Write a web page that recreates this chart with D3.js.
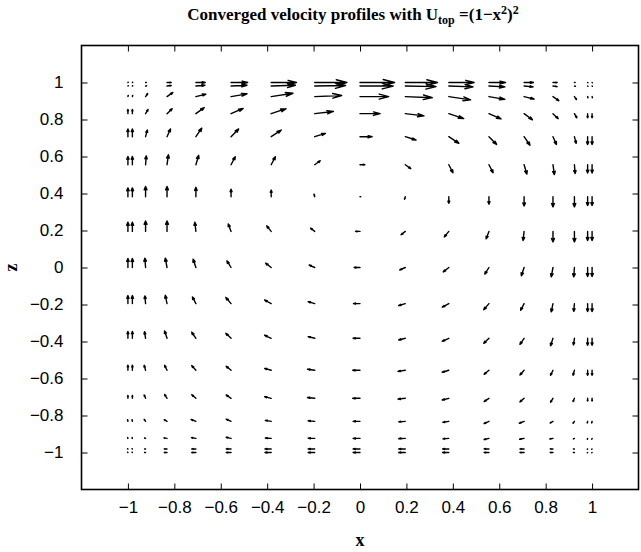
<!DOCTYPE html>
<html>
<head>
<meta charset="utf-8">
<script src="https://cdn.jsdelivr.net/npm/d3@7"></script>
<style>
  html, body { margin: 0; padding: 0; background: #fff; }
  svg { display: block; }
</style>
</head>
<body>
<svg id="chart" width="641" height="552"></svg>
<script>
// Chebyshev grid (x across, z from top to bottom)
const xs = [-1, -0.9808, -0.9239, -0.8315, -0.7071, -0.5556, -0.3827, -0.1951, 0,
            0.1951, 0.3827, 0.5556, 0.7071, 0.8315, 0.9239, 0.9808, 1];
const zs = [1, 0.9808, 0.9239, 0.8315, 0.7071, 0.5556, 0.3827, 0.1951, 0,
            -0.1951, -0.3827, -0.5556, -0.7071, -0.8315, -0.9239, -0.9808, -1];

// Horizontal velocity u, one row per z level (top to bottom)
const uRows = [
  [0.01,0.01,0.02,0.12,0.27,0.48,0.73,0.93,1.00,0.93,0.73,0.48,0.27,0.12,0.02,0.01,0.01],
  [0.01,0.01,0.03,0.12,0.26,0.46,0.70,0.89,0.96,0.89,0.70,0.46,0.26,0.12,0.03,0.01,0.01],
  [0.01,0.01,0.06,0.17,0.29,0.46,0.63,0.78,0.83,0.78,0.63,0.46,0.29,0.17,0.06,0.01,0.01],
  [0.00,0.00,0.07,0.15,0.24,0.35,0.43,0.54,0.58,0.54,0.43,0.35,0.24,0.15,0.07,0.00,0.00],
  [0.00,0.00,0.05,0.10,0.17,0.22,0.29,0.31,0.35,0.31,0.29,0.22,0.17,0.10,0.05,0.00,0.00],
  [0.00,0.00,0.02,0.04,0.08,0.12,0.12,0.16,0.14,0.16,0.12,0.12,0.08,0.04,0.02,0.00,0.00],
  [0.00,0.00,0.00,0.00,0.00,0.00,0.00,-0.02,0.02,-0.02,0.00,0.00,0.00,0.00,0.00,0.00,0.00],
  [0.00,0.00,0.00,0.00,-0.03,-0.08,-0.13,-0.12,-0.13,-0.12,-0.13,-0.08,-0.03,0.00,0.00,0.00,0.00],
  [0.00,0.00,-0.02,-0.05,-0.08,-0.12,-0.16,-0.16,-0.17,-0.16,-0.16,-0.12,-0.08,-0.05,-0.02,0.00,0.00],
  [0.00,0.00,-0.02,-0.05,-0.10,-0.15,-0.19,-0.19,-0.19,-0.19,-0.19,-0.15,-0.10,-0.05,-0.02,0.00,0.00],
  [0.00,0.00,-0.03,-0.07,-0.12,-0.15,-0.19,-0.19,-0.20,-0.19,-0.19,-0.15,-0.12,-0.07,-0.03,0.00,0.00],
  [0.00,0.00,-0.04,-0.07,-0.12,-0.14,-0.19,-0.21,-0.21,-0.21,-0.19,-0.14,-0.12,-0.07,-0.04,0.00,0.00],
  [0.00,0.00,-0.04,-0.07,-0.12,-0.14,-0.19,-0.21,-0.21,-0.21,-0.19,-0.14,-0.12,-0.07,-0.04,0.00,0.00],
  [-0.01,-0.01,-0.04,-0.08,-0.14,-0.14,-0.17,-0.19,-0.20,-0.19,-0.17,-0.14,-0.14,-0.08,-0.04,-0.01,-0.01],
  [-0.01,-0.01,-0.03,-0.09,-0.13,-0.14,-0.17,-0.19,-0.20,-0.19,-0.17,-0.14,-0.13,-0.09,-0.03,-0.01,-0.01],
  [-0.01,-0.01,-0.03,-0.08,-0.12,-0.14,-0.18,-0.19,-0.20,-0.19,-0.18,-0.14,-0.12,-0.08,-0.03,-0.01,-0.01],
  [-0.01,-0.01,-0.03,-0.08,-0.12,-0.14,-0.18,-0.19,-0.20,-0.19,-0.18,-0.14,-0.12,-0.08,-0.03,-0.01,-0.01]
];

// Vertical velocity w, same layout
const wRows = [
  [0.01,0.01,0.00,0.00,0.00,0.00,0.00,0.00,0.00,0.00,0.00,0.00,0.00,0.00,0.00,-0.01,-0.01],
  [0.01,0.01,0.01,0.02,0.03,0.03,0.03,0.02,0.00,-0.02,-0.03,-0.03,-0.03,-0.02,-0.01,-0.01,-0.01],
  [0.04,0.04,0.11,0.15,0.09,0.10,0.12,0.04,0.00,-0.04,-0.12,-0.10,-0.09,-0.15,-0.11,-0.04,-0.04],
  [0.15,0.15,0.15,0.18,0.22,0.19,0.18,0.08,0.00,-0.08,-0.18,-0.19,-0.22,-0.18,-0.15,-0.15,-0.15],
  [0.28,0.28,0.24,0.28,0.31,0.28,0.24,0.12,0.00,-0.12,-0.24,-0.28,-0.31,-0.28,-0.24,-0.28,-0.28],
  [0.30,0.30,0.32,0.36,0.34,0.29,0.29,0.145,0.00,-0.145,-0.29,-0.29,-0.34,-0.36,-0.32,-0.30,-0.30],
  [0.32,0.32,0.37,0.37,0.34,0.27,0.24,0.09,0.00,-0.09,-0.24,-0.27,-0.34,-0.37,-0.37,-0.32,-0.32],
  [0.33,0.33,0.38,0.38,0.33,0.27,0.20,0.12,0.00,-0.12,-0.20,-0.27,-0.33,-0.38,-0.38,-0.33,-0.33],
  [0.33,0.33,0.34,0.34,0.30,0.24,0.16,0.09,0.00,-0.09,-0.16,-0.24,-0.30,-0.34,-0.34,-0.33,-0.33],
  [0.29,0.29,0.28,0.30,0.24,0.22,0.13,0.07,0.00,-0.07,-0.13,-0.22,-0.24,-0.30,-0.28,-0.29,-0.29],
  [0.25,0.25,0.24,0.27,0.22,0.18,0.11,0.06,0.00,-0.06,-0.11,-0.18,-0.22,-0.27,-0.24,-0.25,-0.25],
  [0.18,0.18,0.18,0.18,0.17,0.145,0.07,0.04,0.00,-0.04,-0.07,-0.145,-0.17,-0.18,-0.18,-0.18,-0.18],
  [0.10,0.10,0.12,0.14,0.13,0.12,0.06,0.03,0.00,-0.03,-0.06,-0.12,-0.13,-0.14,-0.12,-0.10,-0.10],
  [0.06,0.06,0.07,0.06,0.07,0.08,0.035,0.02,0.00,-0.02,-0.035,-0.08,-0.07,-0.06,-0.07,-0.06,-0.06],
  [0.03,0.03,0.02,0.02,0.03,0.04,0.015,0.01,0.00,-0.01,-0.015,-0.04,-0.03,-0.02,-0.02,-0.03,-0.03],
  [0.01,0.01,0.00,0.00,0.00,0.00,0.00,0.00,0.00,0.00,0.00,0.00,0.00,0.00,0.00,-0.01,-0.01],
  [0.01,0.01,0.00,0.00,0.00,0.00,0.00,0.00,0.00,0.00,0.00,0.00,0.00,0.00,0.00,-0.01,-0.01]
];

const xTicks = [-1, -0.8, -0.6, -0.4, -0.2, 0, 0.2, 0.4, 0.6, 0.8, 1];
const zTicks = [-1, -0.8, -0.6, -0.4, -0.2, 0, 0.2, 0.4, 0.6, 0.8, 1];

const svg = d3.select("#chart");
const plotL = 81.5, plotR = 638.5, plotT = 45.5, plotB = 489.5;

const x = d3.scaleLinear().domain([-1.2, 1.2]).range([plotL, plotR]);
const y = d3.scaleLinear().domain([-1.2, 1.2]).range([plotB, plotT]);

const fmt = v => (v < 0 ? "\u2212" : "") + String(Math.abs(v));
const tickFont = "'Liberation Sans', Arial, Helvetica, sans-serif";

// Axes with inward ticks on all four sides
const gx = svg.append("g").attr("transform", `translate(0,${plotB})`)
  .call(d3.axisBottom(x).tickValues(xTicks).tickFormat(fmt).tickSize(-6).tickPadding(11));
const gy = svg.append("g").attr("transform", `translate(${plotL},0)`)
  .call(d3.axisLeft(y).tickValues(zTicks).tickFormat(fmt).tickSize(-6).tickPadding(18));
const gt = svg.append("g").attr("transform", `translate(0,${plotT})`)
  .call(d3.axisTop(x).tickValues(xTicks).tickFormat("").tickSize(-6));
const gr = svg.append("g").attr("transform", `translate(${plotR},0)`)
  .call(d3.axisRight(y).tickValues(zTicks).tickFormat("").tickSize(-6));

[gx, gy, gt, gr].forEach(g => {
  g.select(".domain").remove();
  g.selectAll(".tick line").attr("stroke", "#000").attr("stroke-width", 1);
  g.selectAll(".tick text").attr("fill", "#000")
    .style("font-family", tickFont).style("font-size", "17px");
});

svg.append("rect")
  .attr("x", plotL).attr("y", plotT)
  .attr("width", plotR - plotL).attr("height", plotB - plotT)
  .attr("fill", "none").attr("stroke", "#000").attr("stroke-width", 1.6);

// Quiver arrows: shaft plus open arrowhead, built in data units
const scaleLen = 0.149, alpha = 0.33, beta = 0.33;
const arrows = [];
zs.forEach((zv, i) => {
  xs.forEach((xv, j) => {
    arrows.push({ x0: xv, z0: zv, u: uRows[i][j] * scaleLen, w: wRows[i][j] * scaleLen });
  });
});

const arrowPath = d => {
  const tx = d.x0 + d.u, tz = d.z0 + d.w;
  const h1x = tx - alpha * (d.u + beta * d.w), h1z = tz - alpha * (d.w - beta * d.u);
  const h2x = tx - alpha * (d.u - beta * d.w), h2z = tz - alpha * (d.w + beta * d.u);
  return `M${x(d.x0)},${y(d.z0)}L${x(tx)},${y(tz)}` +
         `M${x(h1x)},${y(h1z)}L${x(tx)},${y(tz)}L${x(h2x)},${y(h2z)}`;
};

svg.append("g").selectAll("path").data(arrows).join("path")
  .attr("d", arrowPath)
  .attr("fill", "none").attr("stroke", "#000")
  .attr("stroke-width", 1.4).attr("stroke-linecap", "round").attr("stroke-linejoin", "round");

// Title and axis labels
const serif = "'Liberation Serif', 'Times New Roman', Times, serif";
const title = svg.append("text")
  .attr("x", 353).attr("y", 20).attr("text-anchor", "middle")
  .style("font-family", serif).style("font-weight", "bold").style("font-size", "17px");
title.append("tspan").text("Converged velocity profiles with U");
title.append("tspan").attr("dy", 4).style("font-size", "12px").text("top");
title.append("tspan").attr("dy", -4).text(" =(1\u2212x");
title.append("tspan").attr("dy", -6).style("font-size", "12px").text("2");
title.append("tspan").attr("dy", 6).text(")");
title.append("tspan").attr("dy", -6).style("font-size", "12px").text("2");

svg.append("text")
  .attr("x", (plotL + plotR) / 2).attr("y", 546).attr("text-anchor", "middle")
  .style("font-family", serif).style("font-weight", "bold").style("font-size", "18px")
  .text("x");

svg.append("text")
  .attr("transform", `translate(17,${y(0)}) rotate(-90)`).attr("text-anchor", "middle")
  .style("font-family", serif).style("font-weight", "bold").style("font-size", "18px")
  .text("z");
</script>
</body>
</html>
